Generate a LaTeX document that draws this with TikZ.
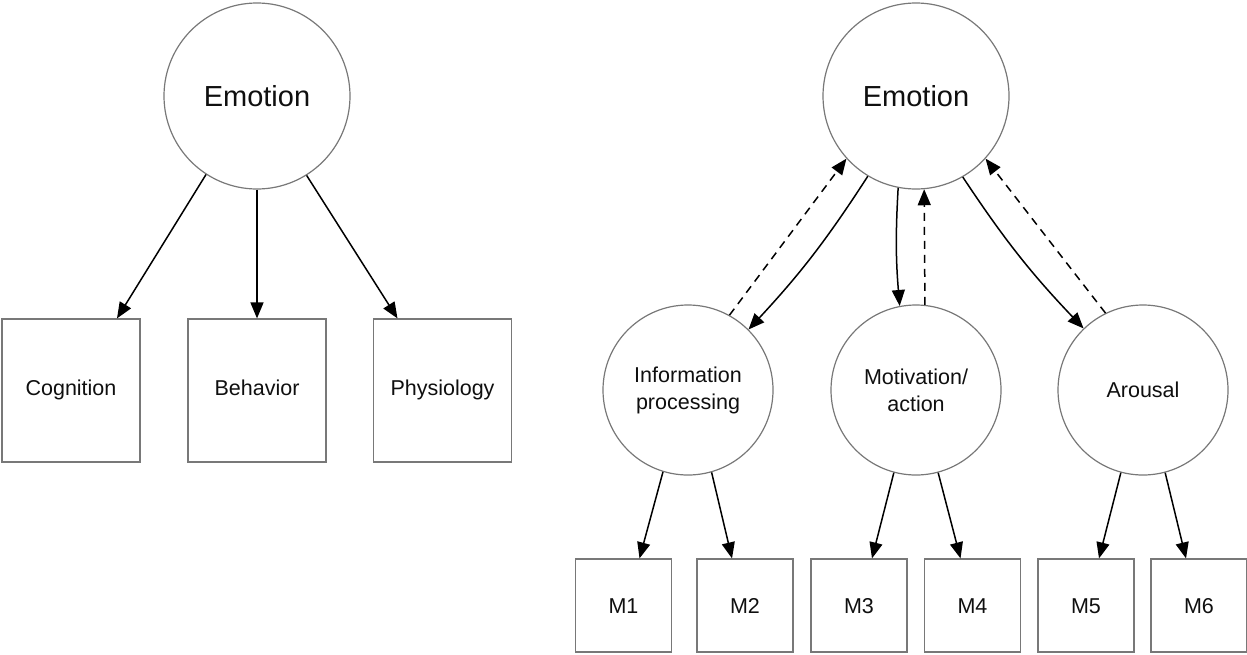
\documentclass[tikz,border=0pt]{standalone}
\usepackage{fontspec}
\setmainfont{Liberation Sans}
\usetikzlibrary{arrows.meta,calc}
\definecolor{linegray}{RGB}{120,120,120}
\definecolor{textc}{RGB}{15,15,15}
\begin{document}
\begin{tikzpicture}[x=1pt,y=-1pt,
  bigc/.style={circle, draw=linegray, line width=1.2pt, minimum size=186pt, inner sep=0pt, font=\fontsize{29}{33}\selectfont, text=textc},
  smallc/.style={circle, draw=linegray, line width=1.2pt, minimum size=170pt, inner sep=0pt, font=\fontsize{21.5}{27}\selectfont, align=center, text=textc},
  bigbox/.style={rectangle, draw=linegray, line width=1.2pt, minimum width=138pt, minimum height=143pt, inner sep=0pt, font=\fontsize{21.5}{26}\selectfont, text=textc, text height=15pt, text depth=5pt},
  mbox/.style={rectangle, draw=linegray, line width=1.2pt, minimum width=96pt, minimum height=93pt, inner sep=0pt, font=\fontsize{21.5}{26}\selectfont, text=textc, text height=15.5pt, text depth=0pt},
  arr/.style={-{Triangle[length=16pt,width=13pt]}, line width=1.5pt, black},
  darr/.style={arr, dash pattern=on 8pt off 6pt},
]
\useasboundingbox (0,0) rectangle (1247,654);
% left diagram
\node[bigc] (emoL) at (257,96) {Emotion};
\node[bigbox] (cog) at (71,390.5) {Cognition};
\node[bigbox] (beh) at (257,390.5) {Behavior};
\node[bigbox] (phy) at (442.5,390.5) {Physiology};
\draw[arr] (emoL.237.7) -- ($(cog.north)+(46,0)$);
\draw[arr] (emoL.270) -- (beh.north);
\draw[arr] (emoL.302.3) -- ($(phy.north)+(-45,0)$);
% right diagram
\node[bigc] (emoR) at (916,96) {Emotion};
\node[smallc] (info) at (688,390) {Information\\processing};
\node[smallc] (moti) at (916,390) {Motivation/\\action};
\node[smallc] (arou) at (1143,390) {Arousal};
\draw[darr] (info.61.4) -- (emoR.222);
\draw[arr] (emoR.239.6) to[bend left=5] (info.45.5);
\draw[arr] (emoR.259.5) to[bend right=4] (moti.101.8);
\draw[darr] (moti.84.7) -- (emoR.275.5);
\draw[arr] (emoR.300.4) to[bend right=5] (arou.134.5);
\draw[darr] (arou.116.3) -- (emoR.318);
% measures
\node[mbox] (m1) at (623.5,605.5) {M1};
\node[mbox] (m2) at (745,605.5) {M2};
\node[mbox] (m3) at (859,605.5) {M3};
\node[mbox] (m4) at (972.5,605.5) {M4};
\node[mbox] (m5) at (1086,605.5) {M5};
\node[mbox] (m6) at (1199,605.5) {M6};
\draw[arr] (info.253) -- ($(m1.north)+(16,0)$);
\draw[arr] (info.286) -- ($(m2.north)+(-13,0)$);
\draw[arr] (moti.255) -- ($(m3.north)+(13,0)$);
\draw[arr] (moti.285) -- ($(m4.north)+(-12,0)$);
\draw[arr] (arou.255) -- ($(m5.north)+(13,0)$);
\draw[arr] (arou.285.5) -- ($(m6.north)+(-13,0)$);
\end{tikzpicture}
\end{document}
